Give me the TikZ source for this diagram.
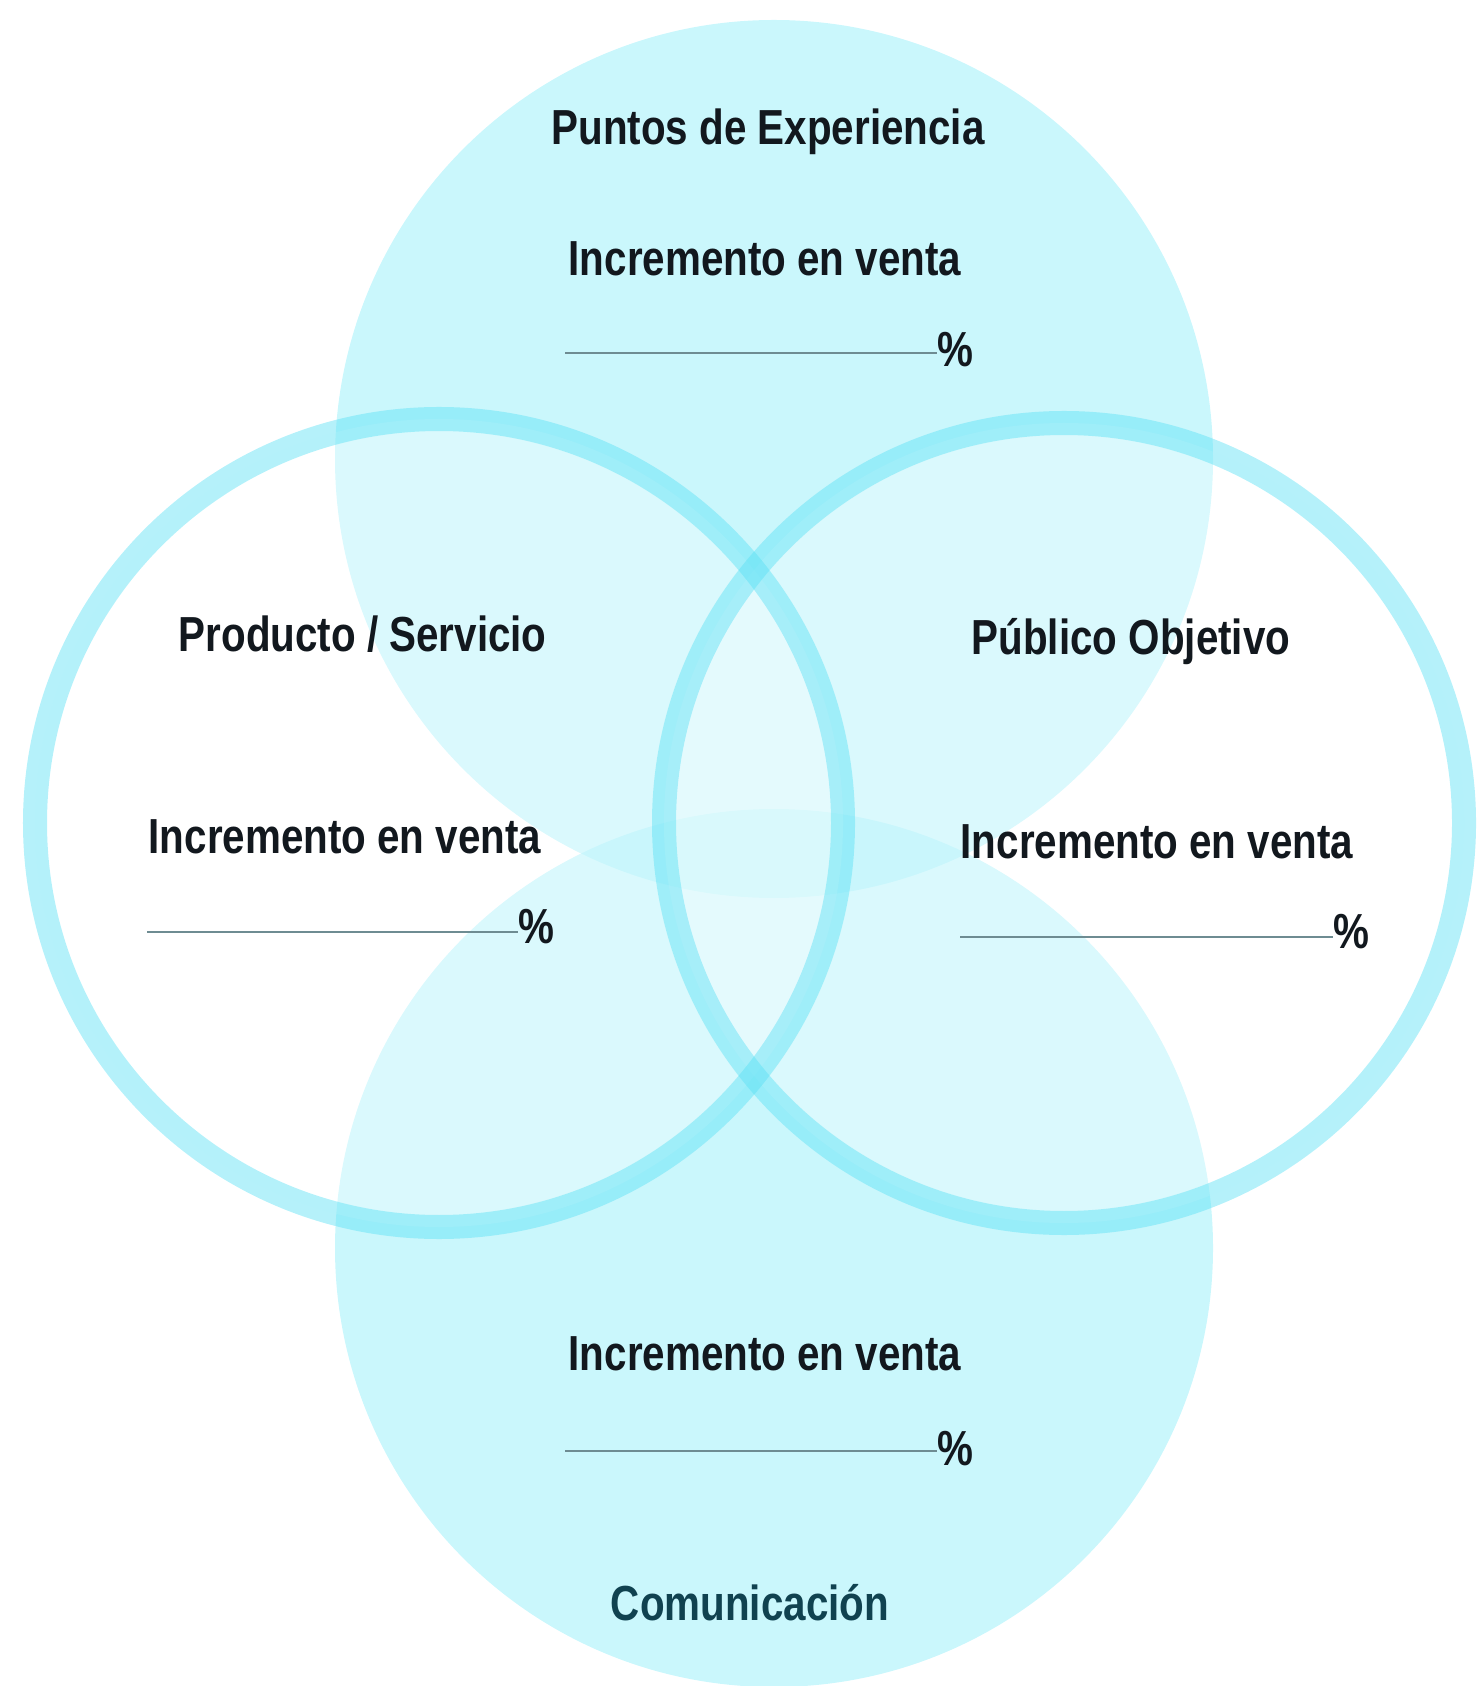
\documentclass[tikz,border=0pt]{standalone}
\usepackage{fontspec}
\setmainfont{Liberation Sans}[FakeStretch=0.82]
\definecolor{fillcyan}{RGB}{160,240,250}
\definecolor{ringcyan}{RGB}{90,225,245}
\definecolor{inkdark}{RGB}{18,24,30}
\definecolor{inkteal}{RGB}{16,66,80}
\definecolor{blankgray}{RGB}{110,140,146}
\begin{document}
\begin{tikzpicture}[x=0.01cm,y=-0.01cm,
    disc/.style={fill=fillcyan, fill opacity=0.56},
    ringin/.style={fill=white, fill opacity=0.3},
    ring/.style={draw=ringcyan, draw opacity=0.45, line width=0.24cm},
    label/.style={font=\bfseries\fontsize{14}{16}\selectfont, inner sep=0pt, text=inkdark},
    pct/.style={label, anchor=base west},
    blank/.style={draw=blankgray, line width=0.6pt}]
  \useasboundingbox (0,0) rectangle (1481,1686);
  % the two filled circles
  \fill[disc] (774,459) circle [radius=439];
  \fill[disc] (774,1248) circle [radius=439];
  % the two rings
  \fill[ringin] (439,823) circle [radius=404];
  \fill[ringin] (1064,823) circle [radius=400];
  \draw[ring] (439,823) circle [radius=404];
  \draw[ring] (1064,823) circle [radius=400];

  % top
  \node[label, anchor=base] (expTitle) at (768,145) {Puntos de Experiencia};
  \node[label, anchor=base west] (expInc) at (568,276) {Incremento en venta};
  \node[pct] (expPct) at (937,367) {\%};
  \coordinate (expLine) at (565,353);
  \draw[blank] (expLine) -- (expLine -| expPct.west);

  % left
  \node[label, anchor=base west] (prodTitle) at (178,652) {Producto / Servicio};
  \node[label, anchor=base west] (prodInc) at (148,853) {Incremento en venta};
  \node[pct] (prodPct) at (518,943) {\%};
  \coordinate (prodLine) at (147,932);
  \draw[blank] (prodLine) -- (prodLine -| prodPct.west);

  % right
  \node[label, anchor=base west] (pubTitle) at (971,655) {Público Objetivo};
  \node[label, anchor=base west] (pubInc) at (960,858) {Incremento en venta};
  \node[pct] (pubPct) at (1333,948) {\%};
  \coordinate (pubLine) at (960,937);
  \draw[blank] (pubLine) -- (pubLine -| pubPct.west);

  % bottom
  \node[label, anchor=base west] (comInc) at (568,1370) {Incremento en venta};
  \node[pct] (comPct) at (937,1465) {\%};
  \coordinate (comLine) at (565,1451);
  \draw[blank] (comLine) -- (comLine -| comPct.west);
  \node[label, anchor=base, text=inkteal] (comTitle) at (750,1620) {Comunicación};
\end{tikzpicture}
\end{document}
